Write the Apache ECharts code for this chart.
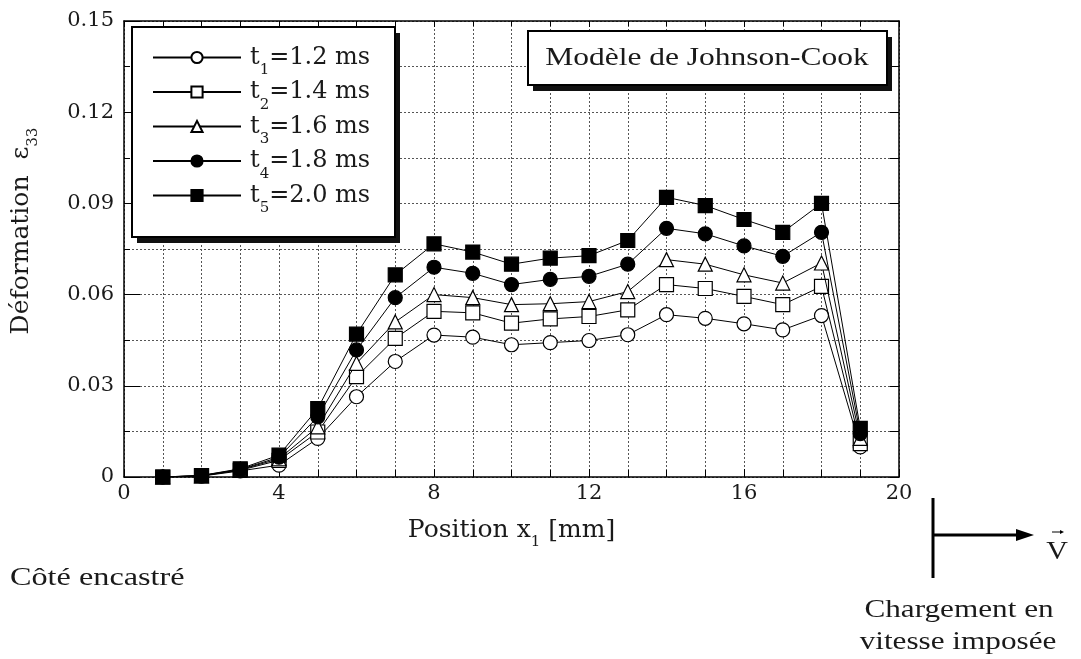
<!DOCTYPE html>
<html><head><meta charset="utf-8">
<script src="https://cdn.jsdelivr.net/npm/echarts@6/dist/echarts.min.js"></script>
<style>html,body{margin:0;padding:0;background:#fff}#c{width:1081px;height:659px}</style>
</head><body><div id="c"></div>
<script>
// ---- data ----
const positions = [1,2,3,4,5,6,7,8,9,10,11,12,13,14,15,16,17,18,19];
const seriesNames = ['t1=1.2 ms','t2=1.4 ms','t3=1.6 ms','t4=1.8 ms','t5=2.0 ms'];
const t1 = [0, 0.0003, 0.0020, 0.0039, 0.0127, 0.0264, 0.0380, 0.0467, 0.0460, 0.0435, 0.0442, 0.0449, 0.0468, 0.0534, 0.0522, 0.0504, 0.0484, 0.0531, 0.0099];
const t2 = [0, 0.0004, 0.0022, 0.0055, 0.0148, 0.0330, 0.0456, 0.0545, 0.0540, 0.0506, 0.0520, 0.0528, 0.0550, 0.0633, 0.0620, 0.0594, 0.0567, 0.0627, 0.0110];
const t3 = [0, 0.0004, 0.0024, 0.0060, 0.0165, 0.0374, 0.0510, 0.0600, 0.0590, 0.0567, 0.0570, 0.0577, 0.0610, 0.0715, 0.0700, 0.0665, 0.0638, 0.0704, 0.0127];
const t4 = [0, 0.0005, 0.0025, 0.0065, 0.0198, 0.0418, 0.0590, 0.0690, 0.0670, 0.0633, 0.0650, 0.0660, 0.0700, 0.0818, 0.0800, 0.0760, 0.0726, 0.0805, 0.0143];
const t5 = [0, 0.0005, 0.0027, 0.0072, 0.0225, 0.0470, 0.0665, 0.0767, 0.0740, 0.0700, 0.0720, 0.0728, 0.0778, 0.0920, 0.0893, 0.0847, 0.0805, 0.0900, 0.0160];
const xTicks = [0, 4, 8, 12, 16, 20];
const yTicks = [0, 0.03, 0.06, 0.09, 0.12, 0.15];

// ---- chart ----
const F = 'DejaVu Serif';
const FT = 'Liberation Serif';
const INK = '#1a1a1a';
function richOf(size, subSize, subPad) {
  return {
    m: {fontFamily: F, fontSize: size, color: INK, lineHeight: size + 2, verticalAlign: 'middle'},
    s: {fontFamily: F, fontSize: subSize, color: INK, lineHeight: subSize, verticalAlign: 'middle', padding: [subPad, 0, 0, 0]}
  };
}
const symbols = [
  {symbol: 'circle', fill: '#fff'},
  {symbol: 'rect', fill: '#fff'},
  {symbol: 'triangle', fill: '#fff'},
  {symbol: 'circle', fill: '#000'},
  {symbol: 'rect', fill: '#000'}
];
const values = [t1, t2, t3, t4, t5];
const series = values.map((vals, i) => ({
  name: seriesNames[i],
  type: 'line',
  data: positions.map((p, k) => [p, vals[k]]),
  symbol: symbols[i].symbol,
  symbolSize: 14,
  showAllSymbol: true,
  lineStyle: {color: '#000', width: 1},
  itemStyle: {color: symbols[i].fill, borderColor: '#000', borderWidth: 1.2},
  emphasis: {disabled: true},
  z: 2 + i
}));

const dotted = {show: true, lineStyle: {color: '#555', width: 1, type: [2, 2]}};
const chart = echarts.init(document.getElementById('c'), null, {renderer: 'canvas'});
chart.setOption({
  animation: false,
  backgroundColor: '#fff',
  grid: {left: 124, right: 182, top: 21, bottom: 182, show: false, containLabel: false, outerBoundsMode: 'none'},
  legend: {
    orient: 'vertical', left: 152, top: 37, padding: 0,
    itemWidth: 88, itemHeight: 14, itemGap: -6.5, z: 10,
    selectedMode: false,
    data: seriesNames,
    formatter: n => '{m|' + n.charAt(0) + '}{s|' + n.charAt(1) + '}{m|' + n.slice(2) + '}',
    textStyle: {rich: richOf(24, 15, 26), padding: [0, 0, 0, 4]}
  },
  xAxis: [{
    type: 'value', min: xTicks[0], max: xTicks[xTicks.length - 1], interval: xTicks[1] - xTicks[0],
    position: 'bottom',
    axisLine: {show: true, onZero: false, lineStyle: {color: '#000', width: 1.5}},
    axisTick: {show: true, inside: true, length: 8, lineStyle: {color: '#000'}},
    minorTick: {show: true, splitNumber: 4, length: 7, lineStyle: {color: '#000'}},
    axisLabel: {fontFamily: F, fontSize: 21, color: INK, margin: 6},
    splitLine: dotted, minorSplitLine: dotted,
    name: '{m|Position x}{s|1}{m| [mm]}', nameLocation: 'middle', nameGap: 40,
    nameTextStyle: {rich: richOf(25, 15, 24)}
  }, {
    type: 'value', min: xTicks[0], max: xTicks[xTicks.length - 1], interval: xTicks[1] - xTicks[0],
    position: 'top',
    axisLine: {show: true, onZero: false, lineStyle: {color: '#000', width: 1.5}},
    axisTick: {show: true, inside: true, length: 6, lineStyle: {color: '#000'}},
    minorTick: {show: true, splitNumber: 4, length: 5, lineStyle: {color: '#000'}},
    axisLabel: {show: false}, splitLine: {show: false}
  }],
  yAxis: [{
    type: 'value', min: yTicks[0], max: yTicks[yTicks.length - 1], interval: yTicks[1] - yTicks[0],
    position: 'left',
    axisLine: {show: true, onZero: false, lineStyle: {color: '#000', width: 1.5}},
    axisTick: {show: true, inside: true, length: 16, lineStyle: {color: '#000'}},
    minorTick: {show: true, splitNumber: 2, length: 6, lineStyle: {color: '#000'}},
    axisLabel: {fontFamily: F, fontSize: 21, color: INK, margin: 10,
      formatter: v => v === 0 ? '0' : v.toFixed(2)},
    splitLine: dotted, minorSplitLine: dotted,
    name: '{m|Déformation  ε}{s|33}', nameLocation: 'middle', nameGap: 89,
    nameTextStyle: {rich: richOf(25, 15, 24), padding: [0, 0, 0, 36]}
  }, {
    type: 'value', min: yTicks[0], max: yTicks[yTicks.length - 1], interval: yTicks[1] - yTicks[0],
    position: 'right',
    axisLine: {show: true, onZero: false, lineStyle: {color: '#000', width: 1.5}},
    axisTick: {show: true, inside: true, length: 9, lineStyle: {color: '#000'}},
    minorTick: {show: true, splitNumber: 2, length: 9, lineStyle: {color: '#000'}},
    axisLabel: {show: false}, splitLine: {show: false}
  }],
  series: series,
  graphic: [
    {type: 'rect', z: 3, shape: {x: 137, y: 33, width: 263, height: 210}, style: {fill: '#111'}},
    {type: 'rect', z: 4, shape: {x: 132, y: 27, width: 263, height: 210}, style: {fill: '#fff', stroke: '#000', lineWidth: 2}},
    {type: 'rect', z: 3, shape: {x: 533, y: 37, width: 359, height: 54}, style: {fill: '#111'}},
    {type: 'rect', z: 4, shape: {x: 528, y: 31, width: 359, height: 54}, style: {fill: '#fff', stroke: '#000', lineWidth: 2}},
    {type: 'text', z: 5, x: 707, y: 58, scaleX: 1.26, style: {x: 0, y: 0, text: 'Modèle de Johnson-Cook', fontFamily: FT, fontSize: 25, fill: INK, textAlign: 'center', textVerticalAlign: 'middle'}},
    {type: 'line', z: 5, shape: {x1: 933, y1: 498, x2: 933, y2: 578}, style: {stroke: '#000', lineWidth: 3}},
    {type: 'line', z: 5, shape: {x1: 933, y1: 535, x2: 1020, y2: 535}, style: {stroke: '#000', lineWidth: 3}},
    {type: 'polygon', z: 5, shape: {points: [[1034, 535], [1016, 529], [1016, 541]]}, style: {fill: '#000'}},
    {type: 'text', z: 5, x: 1057, y: 552, scaleX: 1.2, style: {x: 0, y: 0, text: 'V', fontFamily: FT, fontSize: 25, fill: INK, textAlign: 'center', textVerticalAlign: 'middle'}},
    {type: 'line', z: 5, shape: {x1: 1052, y1: 532, x2: 1062, y2: 532}, style: {stroke: '#000', lineWidth: 1}},
    {type: 'polygon', z: 5, shape: {points: [[1064, 532], [1060, 530], [1060, 534]]}, style: {fill: '#000'}},
    {type: 'text', z: 5, x: 10, y: 578, scaleX: 1.24, style: {x: 0, y: 0, text: 'Côté encastré', fontFamily: FT, fontSize: 26, fill: INK, textAlign: 'left', textVerticalAlign: 'middle'}},
    {type: 'text', z: 5, x: 959, y: 610, scaleX: 1.2, style: {x: 0, y: 0, text: 'Chargement en', fontFamily: FT, fontSize: 26, fill: INK, textAlign: 'center', textVerticalAlign: 'middle'}},
    {type: 'text', z: 5, x: 958, y: 642, scaleX: 1.2, style: {x: 0, y: 0, text: 'vitesse imposée', fontFamily: FT, fontSize: 26, fill: INK, textAlign: 'center', textVerticalAlign: 'middle'}}
  ]
});
</script></body></html>
